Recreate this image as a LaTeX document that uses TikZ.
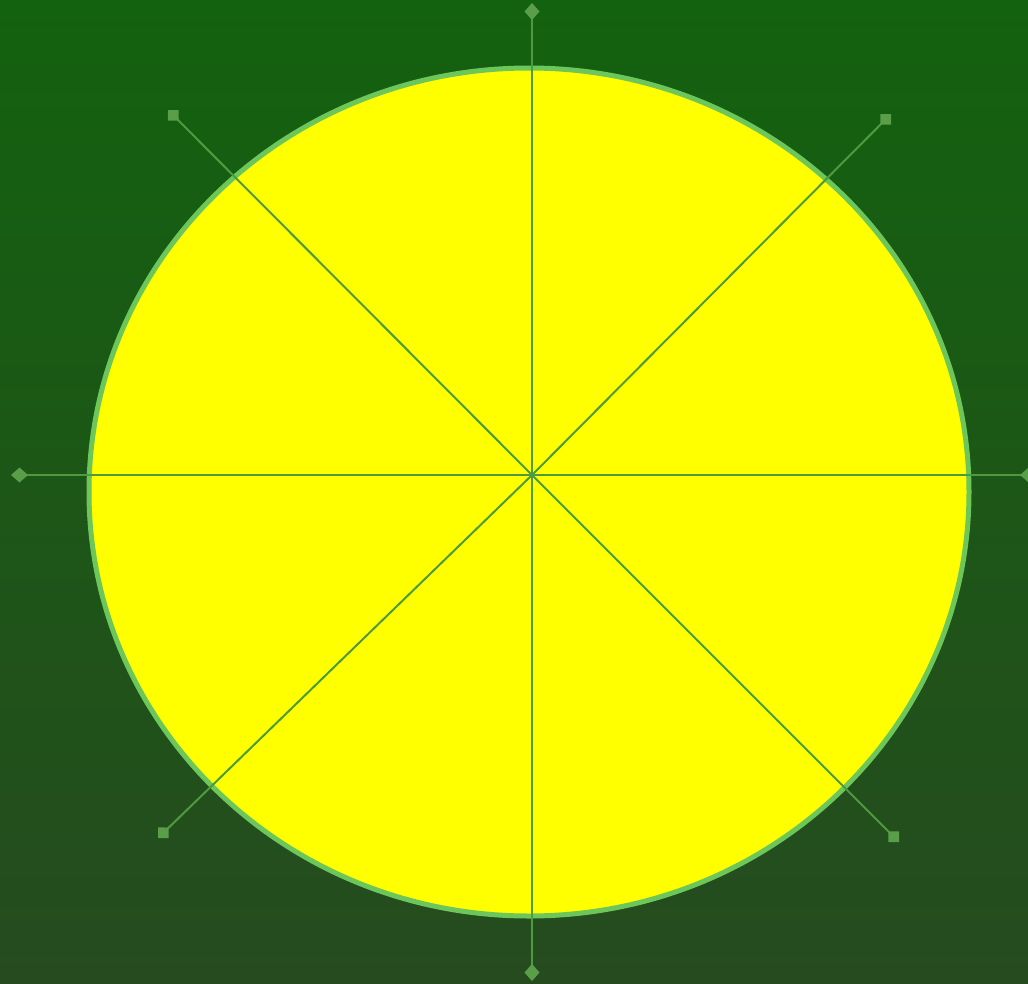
\documentclass[tikz,border=0pt]{standalone}
\usepackage{xcolor}
\usepackage{tikz}
\usetikzlibrary{arrows.meta}
\definecolor{bgtop}{HTML}{13620F}
\definecolor{bgbot}{HTML}{264B1F}
\definecolor{rim}{HTML}{6CC65A}
\definecolor{lemon}{HTML}{FFFF00}
\definecolor{spokegreen}{HTML}{4E9A3E}
\definecolor{tipgreen}{HTML}{5A9E4A}

\begin{document}
\begin{tikzpicture}[x=1pt, y=-1pt, disc/.style={draw=rim, line width=5pt, fill=lemon}, spoke/.style={draw=spokegreen, line width=2pt}, axis/.style={spoke, -{Diamond[length=17pt, width=15pt, color=tipgreen, fill=tipgreen]}}, diag/.style={spoke, -{Diamond[length=15pt, width=15pt, color=tipgreen, fill=tipgreen]}}]
\shade[top color=bgtop, bottom color=bgbot] (0,0) rectangle (1028,983);
\useasboundingbox (0,0) rectangle (1028,983);
\draw[disc] (529,492) ellipse [x radius=440, y radius=424];
\coordinate (hub) at (532,475);
\coordinate (n) at (532,3);
\coordinate (s) at (532,981);
\coordinate (w) at (11,475);
\coordinate (e) at (1037,475);
\coordinate (nw) at (168,110);
\coordinate (ne) at (891,114);
\coordinate (sw) at (158,838);
\coordinate (se) at (899,842);
\foreach \p in {n,s,w,e} \draw[axis] (hub)--(\p);
\foreach \p in {nw,ne,sw,se} \draw[diag] (hub)--(\p);
\end{tikzpicture}
\end{document}
